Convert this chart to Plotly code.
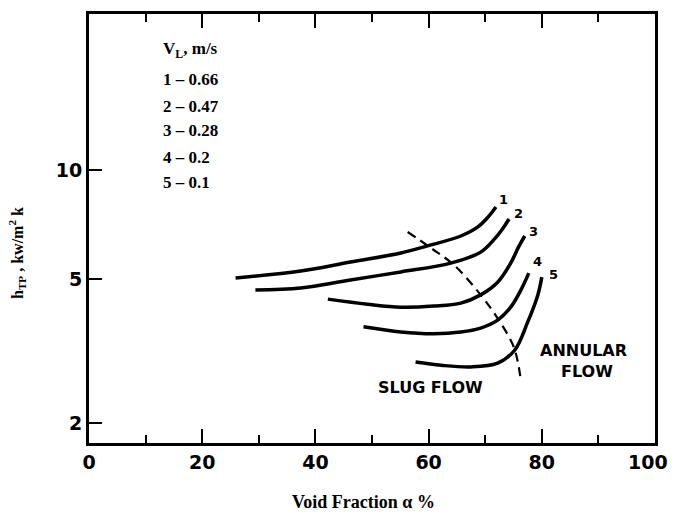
import math
import plotly.graph_objects as go

# Void fraction (%) and heat transfer coefficient h_TP (kW/m^2 K)
c1_x = [25.9, 37.4, 46.2, 55.1, 59.8, 65.7, 68.7, 70.5, 71.9]
c1_y = [5.03, 5.26, 5.57, 5.90, 6.17, 6.57, 6.96, 7.41, 7.90]
c2_x = [29.4, 37.4, 46.2, 55.1, 63.9, 69.2, 71.5, 73.3, 74.2]
c2_y = [4.66, 4.72, 4.97, 5.23, 5.53, 5.93, 6.41, 6.96, 7.32]
c3_x = [42.2, 49.2, 55.1, 60.9, 65.7, 69.2, 72.2, 74.5, 75.9, 77.0]
c3_y = [4.40, 4.26, 4.18, 4.21, 4.29, 4.52, 4.90, 5.53, 6.13, 6.57]
c4_x = [48.5, 55.1, 60.9, 65.7, 69.2, 72.2, 74.5, 76.3, 77.7]
c4_y = [3.69, 3.57, 3.53, 3.57, 3.66, 3.85, 4.18, 4.66, 5.19]
c5_x = [57.7, 62.2, 67.5, 72.2, 75.2, 77.5, 79.3, 80.0]
c5_y = [2.95, 2.89, 2.86, 2.93, 3.18, 3.80, 4.52, 5.06]
boundary_x = [56.3, 60.4, 64.5, 69.2, 72.4, 75.1, 76.3]
boundary_y = [6.74, 6.09, 5.46, 4.52, 3.85, 3.23, 2.62]

curve_ids = ["1", "2", "3", "4", "5"]
vl_values = ["0.66", "0.47", "0.28", "0.2", "0.1"]
label_x = [73.3, 75.8, 78.6, 79.3, 82.0]
label_y = [8.26, 7.60, 6.74, 5.57, 5.13]

x_ticks = [0, 20, 40, 60, 80, 100]
x_tick_text = ["0", "20", "40", "60", "80", ""]
last_x_label = "100"
y_ticks = [2, 5, 10]
y_tick_text = ["2", "5", "10"]

curves = [(c1_x, c1_y), (c2_x, c2_y), (c3_x, c3_y), (c4_x, c4_y), (c5_x, c5_y)]

fig = go.Figure()
for (xs, ys), cid in zip(curves, curve_ids):
    fig.add_trace(go.Scatter(x=xs, y=ys, mode="lines", name=cid,
                             line=dict(color="black", width=3.5, shape="spline", smoothing=1.0)))
fig.add_trace(go.Scatter(x=boundary_x, y=boundary_y, mode="lines", name="boundary",
                         line=dict(color="black", width=2.2, dash="9px,6px", shape="spline", smoothing=1.0)))

serif = "Liberation Serif"
sans = "DejaVu Sans"
ann = []
for lx, ly, cid in zip(label_x, label_y, curve_ids):
    ann.append(dict(x=lx, y=math.log10(ly), text=cid, showarrow=False,
                    xanchor="center", yanchor="middle",
                    font=dict(family=sans, size=13, color="black", weight="bold")))

ann.append(dict(x=12.65, y=1.3306, text="V<sub>L</sub>, m/s", showarrow=False,
                xanchor="left", yanchor="middle",
                font=dict(family=serif, size=17, color="black", weight="bold")))
leg_u = [1.248, 1.1762, 1.1073, 1.0355, 0.9638]
for cid, v, u in zip(curve_ids, vl_values, leg_u):
    ann.append(dict(x=12.65, y=u, text=f"{cid} \u2013 {v}", showarrow=False,
                    xanchor="left", yanchor="middle",
                    font=dict(family=serif, size=17, color="black", weight="bold")))

ann.append(dict(x=60.4, y=0.401, text="SLUG FLOW", showarrow=False,
                xanchor="center", yanchor="middle",
                font=dict(family=sans, size=16, color="black", weight="bold")))
ann.append(dict(x=87.4, y=0.503, text="ANNULAR", showarrow=False,
                xanchor="center", yanchor="middle",
                font=dict(family=sans, size=16, color="black", weight="bold")))
ann.append(dict(x=88.0, y=0.4424, text="FLOW", showarrow=False,
                xanchor="center", yanchor="middle",
                font=dict(family=sans, size=16, color="black", weight="bold")))

# last x tick label, drawn slightly inset as in the original
ann.append(dict(x=98.7, xref="x", yref="paper", y=(443 - 462) / 429, text=last_x_label, showarrow=False,
                xanchor="center", yanchor="middle",
                font=dict(family=sans, size=19, color="black", weight="bold")))

ann.append(dict(xref="paper", yref="paper", x=(363 - 89) / 566, y=(443 - 502) / 429,
                xanchor="center", yanchor="middle",
                text="Void Fraction \u03b1 %", showarrow=False,
                font=dict(family=serif, size=18, color="black", weight="bold")))
ann.append(dict(xref="paper", yref="paper", x=(17 - 89) / 566, y=(443 - 253) / 429,
                xanchor="center", yanchor="middle",
                text="h<sub>TP</sub> , kw/m<sup>2</sup> k", showarrow=False, textangle=-90,
                font=dict(family=serif, size=16, color="black", weight="bold")))

fig.update_layout(
    width=673, height=513,
    margin=dict(l=89, r=18, t=14, b=70, autoexpand=False),
    paper_bgcolor="white", plot_bgcolor="white",
    showlegend=False,
    annotations=ann,
    xaxis=dict(range=[0, 100], tickvals=x_ticks, ticktext=x_tick_text, ticks="inside", ticklen=14, tickwidth=2,
               tickcolor="black", showline=True, linecolor="black", linewidth=3, mirror="ticks",
               showgrid=False, zeroline=False, automargin=False, ticklabeloverflow="allow",
               minor=dict(dtick=10, ticks="inside", ticklen=8, tickwidth=2, tickcolor="black", showgrid=False),
               tickfont=dict(family=sans, size=19, color="black", weight="bold")),
    yaxis=dict(type="log", range=[0.2465, 1.430], tickvals=y_ticks, ticktext=y_tick_text,
               ticks="inside", ticklen=13, tickwidth=2, tickcolor="black",
               showline=True, linecolor="black", linewidth=3, mirror=True,
               showgrid=False, zeroline=False, automargin=False, ticklabeloverflow="allow",
               tickfont=dict(family=sans, size=19, color="black", weight="bold")),
)

fig.write_html("out.html", config={"displayModeBar": False},
               post_script="document.body.style.margin='0';document.documentElement.style.overflow='hidden';document.body.style.overflow='hidden';")
